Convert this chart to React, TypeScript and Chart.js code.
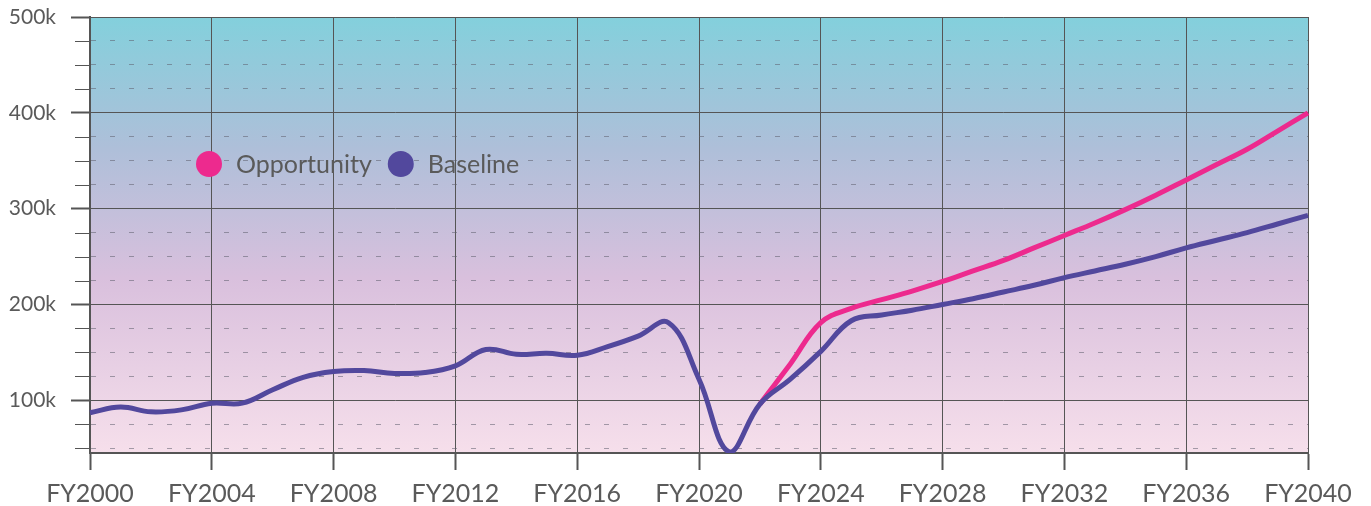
import React, { useEffect, useRef } from 'react';
import { Chart, registerables } from 'chart.js';

Chart.register(...registerables);

const categories = [
  'FY2000','FY2001','FY2002','FY2003','FY2004','FY2005','FY2006','FY2007','FY2008','FY2009',
  'FY2010','FY2011','FY2012','FY2013','FY2014','FY2015','FY2016','FY2017','FY2018','FY2019',
  'FY2020','FY2021','FY2022','FY2023','FY2024','FY2025','FY2026','FY2027','FY2028','FY2029',
  'FY2030','FY2031','FY2032','FY2033','FY2034','FY2035','FY2036','FY2037','FY2038','FY2039','FY2040',
];

// values in thousands
const baseline = [
  87, 93, 88, 90, 97, 97, 111, 124, 130, 131,
  128, 129, 136, 153, 148, 149, 147, 156, 167, 181,
  122, 46, 96, 122, 151, 183, 189, 194, 200, 206,
  213, 220, 228, 235, 242, 250, 259, 267, 275, 284, 293,
];

const opportunity = [
  null, null, null, null, null, null, null, null, null, null,
  null, null, null, null, null, null, null, null, null, null,
  null, null, 96, 138, 181, 196, 205, 214, 224, 235,
  246, 259, 272, 285, 299, 314, 330, 346, 362, 381, 400,
];

const seriesNames = ['Opportunity', 'Baseline'];
const seriesColors = ['#ED2A8E', '#52489D'];

const yMin = 45;
const yMax = 500;
const yTickValues = [50, 75, 100, 125, 150, 175, 200, 225, 250, 275, 300, 325, 350, 375, 400, 425, 450, 475, 500];

const FONT = 'Lato';
const TEXT = '#5a5a5a';
const AXIS = '#555555';

export default function App() {
  const ref = useRef<HTMLCanvasElement | null>(null);

  useEffect(() => {
    if (!ref.current) return;

    const bgPlugin = {
      id: 'bgGradient',
      beforeDraw(chart: any) {
        const { ctx, chartArea } = chart;
        if (!chartArea) return;
        const g = ctx.createLinearGradient(0, chartArea.top, 0, chartArea.bottom);
        g.addColorStop(0, '#83d0dc');
        g.addColorStop(0.3, '#aebfd9');
        g.addColorStop(0.6, '#d9c0dd');
        g.addColorStop(1, '#f6dfeb');
        ctx.save();
        ctx.fillStyle = g;
        ctx.fillRect(chartArea.left, chartArea.top, chartArea.right - chartArea.left, chartArea.bottom - chartArea.top);
        ctx.restore();
      },
    };

    const extrasPlugin = {
      id: 'extras',
      afterDraw(chart: any) {
        const { ctx, chartArea } = chart;
        const y = chart.scales.y;
        ctx.save();
        // minor tick marks
        ctx.strokeStyle = AXIS;
        ctx.lineWidth = 1;
        y.ticks.forEach((t: any) => {
          if (t.value % 100 !== 0) {
            const py = Math.round(y.getPixelForValue(t.value)) + 0.5;
            ctx.beginPath();
            ctx.moveTo(chartArea.left - 15, py);
            ctx.lineTo(chartArea.left, py);
            ctx.stroke();
          }
        });
        // legend
        ctx.font = `25px ${FONT}`;
        ctx.textBaseline = 'middle';
        ctx.textAlign = 'left';
        const cy = chartArea.top + 147;
        let cx = chartArea.left + 119;
        seriesNames.forEach((name, i) => {
          ctx.fillStyle = seriesColors[i];
          ctx.beginPath();
          ctx.arc(cx, cy, 13, 0, Math.PI * 2);
          ctx.fill();
          ctx.fillStyle = TEXT;
          const tx = cx + 27;
          ctx.fillText(name, tx, cy + 1);
          const w = ctx.measureText(name).width;
          cx = tx + w + 29;
        });
        ctx.restore();
      },
    };

    const chart = new Chart(ref.current, {
      type: 'line',
      data: {
        labels: categories,
        datasets: [
          {
            label: seriesNames[1],
            data: baseline,
            borderColor: seriesColors[1],
            backgroundColor: seriesColors[1],
            borderWidth: 5,
            pointRadius: 0,
            tension: 0.4,
            fill: false,
          },
          {
            label: seriesNames[0],
            data: opportunity,
            borderColor: seriesColors[0],
            backgroundColor: seriesColors[0],
            borderWidth: 5,
            pointRadius: 0,
            tension: 0.4,
            fill: false,
            spanGaps: false,
          },
        ],
      },
      options: {
        animation: false,
        responsive: true,
        maintainAspectRatio: false,
        layout: { padding: { top: 9, right: 55, left: 0, bottom: 0 } },
        plugins: {
          legend: { display: false },
          tooltip: { enabled: false },
        },
        scales: {
          x: {
            type: 'category',
            afterFit(scale: any) {
              scale.paddingLeft = 0;
              scale.paddingRight = 0;
              scale.height = 53;
            },
            border: { display: true, color: AXIS, width: 2 },
            grid: {
              color: AXIS,
              lineWidth: 1,
              tickLength: 17,
              tickWidth: 2,
              tickColor: AXIS,
            },
            ticks: {
              autoSkip: false,
              maxRotation: 0,
              minRotation: 0,
              padding: 9,
              color: TEXT,
              font: { family: FONT, size: 25 },
              callback: (_v: any, i: number) => (i % 4 === 0 ? categories[i] : null),
            },
          },
          y: {
            type: 'linear',
            min: yMin,
            max: yMax,
            afterBuildTicks(scale: any) {
              scale.ticks = yTickValues.map((v) => ({ value: v }));
            },
            afterFit(scale: any) {
              scale.width = 82;
              scale.paddingTop = 0;
            },
            border: {
              display: true,
              color: AXIS,
              width: 2,
              dash: (ctx: any) => (ctx.tick && ctx.tick.value % 100 === 0 ? [] : [5, 14]),
            },
            grid: {
              color: (ctx: any) => (ctx.tick && ctx.tick.value % 100 === 0 ? AXIS : 'rgba(95,95,110,0.55)'),
              lineWidth: 1,
              tickLength: 19,
              tickWidth: (ctx: any) => (ctx.tick && ctx.tick.value % 100 === 0 ? 2 : 1),
              tickColor: (ctx: any) => (ctx.tick && ctx.tick.value % 100 === 0 ? AXIS : 'rgba(0,0,0,0)'),
            },
            ticks: {
              autoSkip: false,
              padding: 15,
              color: TEXT,
              font: { family: FONT, size: 21 },
              callback: (v: any) => (Number(v) % 100 === 0 ? `${v}k` : ''),
            },
          },
        },
      },
      plugins: [bgPlugin, extrasPlugin],
    });

    return () => chart.destroy();
  }, []);

  return (
    <div style={{ position: 'relative', width: '1355px', height: '498px' }}>
      <canvas ref={ref} />
    </div>
  );
}
